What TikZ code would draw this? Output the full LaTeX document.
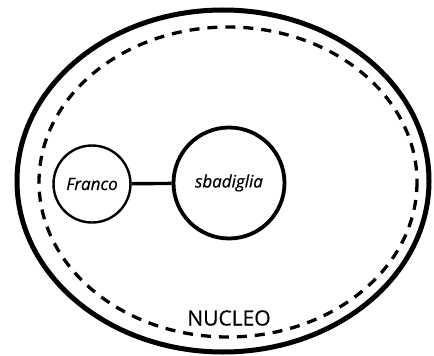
\documentclass[tikz,border=0pt]{standalone}
\usepackage{fontspec}
\setmainfont{Open Sans}
\newfontfamily\labelfont[FakeBold=0.6]{Open Sans}
\begin{document}
\begin{tikzpicture}[x=1pt,y=-1pt,
  outerline/.style={line width=5pt},
  dashline/.style={line width=3.3pt,dash pattern=on 10pt off 8pt},
  smallcirc/.style={circle,draw,line width=2.4pt,minimum size=77pt,inner sep=0pt,font=\labelfont\itshape\fontsize{17}{19}\selectfont},
  bigcirc/.style={circle,draw,line width=3.8pt,minimum size=111pt,inner sep=0pt,font=\labelfont\itshape\fontsize{17}{19}\selectfont},
  link/.style={line width=3.4pt}]
\useasboundingbox (0,0) rectangle (434,356);
\draw[outerline] (223,181) ellipse [x radius=206, y radius=171];
\draw[dashline] (228,182) ellipse [x radius=189, y radius=155];
\node[smallcirc] (franco) at (92,184) {Franco};
\node[bigcirc] (sbad) at (229,183) {sbadiglia};
\draw[link] (franco) -- (sbad);
\node[font=\labelfont\fontsize{21}{23}\selectfont] (nucleo) at (229,318) {NUCLEO};
\end{tikzpicture}
\end{document}
